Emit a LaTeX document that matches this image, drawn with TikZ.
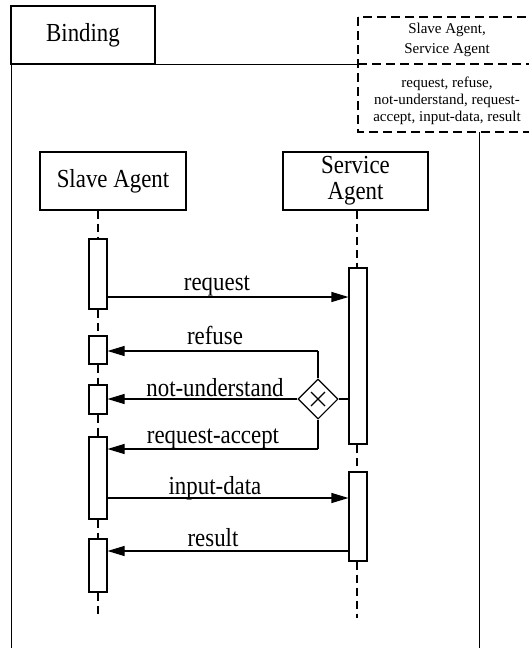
\documentclass[tikz,border=0pt]{standalone}
\usepackage{fontspec}
\setmainfont{Liberation Serif}[FakeStretch=0.88]
\newfontfamily\notefont{Liberation Serif}
\usetikzlibrary{arrows.meta,shapes.geometric}

\tikzset{
  solidline/.style={line width=1.1pt},
  frameline/.style={line width=1pt},
  headbox/.style={draw, line width=1.1pt, inner sep=0pt, align=center,
    font=\fontsize{26}{26}\selectfont},
  actbox/.style={draw, fill=white, line width=1.1pt, minimum width=18pt, inner sep=0pt},
  lifeline/.style={line width=2pt, dash pattern=on 8pt off 5pt},
  dashbox/.style={line width=2pt, dash pattern=on 9pt off 5pt},
  msg/.style={line width=1.1pt, -{Triangle[length=17pt,width=10pt]}},
  msglabel/.style={anchor=base, inner sep=0pt, font=\fontsize{26}{26}\selectfont},
  notelabel/.style={anchor=base, inner sep=0pt, font=\notefont\fontsize{15}{17}\selectfont},
  choice/.style={draw, diamond, line width=1.1pt, fill=white, minimum width=40pt,
    minimum height=40pt, inner sep=0pt, aspect=1}
}

\begin{document}
\begin{tikzpicture}[x=1pt,y=-1pt]
\useasboundingbox (0,0) rectangle (529,648);

% frame of the binding
\node[headbox, minimum width=144pt, minimum height=58pt] (binding) at (83,35) {Binding};
\coordinate (frameTL) at (11,6);
\coordinate (frameBL) at (11,648);
\coordinate (frameR) at (479,132);
\coordinate (frameBR) at (479,648);
\draw[frameline] (frameTL) -- (frameBL);
\draw[frameline] (frameR) -- (frameBR);
\coordinate (barL) at (155,64);
\coordinate (barR) at (358,64);
\draw[frameline] (barL) -- (barR);

% dashed template box
\coordinate (dbTL) at (358,17);
\coordinate (dbBR) at (537,132);
\coordinate (dbMidL) at (358,64);
\coordinate (dbMidR) at (537,64);
\draw[dashbox] (dbTL) rectangle (dbBR);
\draw[dashbox] (dbMidL) -- (dbMidR);
\node[notelabel] (p1) at (447,33) {Slave Agent,};
\node[notelabel] (p2) at (447,53) {Service Agent};
\node[notelabel] (m1) at (447,87) {request, refuse,};
\node[notelabel] (m2) at (447,104) {not-understand, request-};
\node[notelabel] (m3) at (447,121) {accept, input-data, result};

% participants
\node[headbox, minimum width=146pt, minimum height=58pt] (slave) at (113,181) {Slave Agent};
\node[headbox, minimum width=145pt, minimum height=58pt] (service) at (355.5,181) {Service\\Agent};

% activations of the slave agent
\node[actbox, minimum height=70pt] (sa1) at (98,274) {};
\node[actbox, minimum height=28pt] (sa2) at (98,350) {};
\node[actbox, minimum height=29pt] (sa3) at (98,399.5) {};
\node[actbox, minimum height=82pt] (sa4) at (98,478) {};
\node[actbox, minimum height=53pt] (sa5) at (98,565.5) {};

% activations of the service agent
\node[actbox, minimum height=176pt] (va1) at (358,356) {};
\node[actbox, minimum height=89pt] (va2) at (358,516.5) {};

% lifelines
\coordinate (slaveEnd) at (98,618);
\coordinate (serviceEnd) at (357,618);
\draw[lifeline] (slave.south -| sa1.north) -- (sa1.north);
\draw[lifeline] (sa1.south) -- (sa2.north);
\draw[lifeline] (sa2.south) -- (sa3.north);
\draw[lifeline] (sa3.south) -- (sa4.north);
\draw[lifeline] (sa4.south) -- (sa5.north);
\draw[lifeline] (sa5.south) -- (slaveEnd);
\draw[lifeline] (slave.south -| serviceEnd) -- (va1.north -| serviceEnd);
\draw[lifeline] (va1.south -| serviceEnd) -- (va2.north -| serviceEnd);
\draw[lifeline] (va2.south -| serviceEnd) -- (serviceEnd);

% request
\coordinate (yReq) at (0,297);
\draw[msg] (sa1.east |- yReq) -- (va1.west |- yReq);
\node[msglabel] (lReq) at (217,290) {request};

% choice between refuse, not-understand and request-accept
\node[choice] (dia) at (318,399) {};
\draw[solidline] ([shift={(-7,-7)}]dia.center) -- ([shift={(7,7)}]dia.center);
\draw[solidline] ([shift={(-7,7)}]dia.center) -- ([shift={(7,-7)}]dia.center);
\draw[solidline] (dia.east) -- (dia.east -| va1.west);
\coordinate (refTop) at (318,351);
\coordinate (accBot) at (318,449);
\draw[solidline] (dia.north) -- (refTop);
\draw[solidline] (dia.south) -- (accBot);

\draw[msg] (refTop) -- (refTop -| sa2.east);
\node[msglabel] (lRef) at (215,344) {refuse};

\draw[msg] (dia.west) -- (dia.west -| sa3.east);
\node[msglabel] (lNot) at (215,396) {not-understand};

\draw[msg] (accBot) -- (accBot -| sa4.east);
\node[msglabel] (lAcc) at (213,443) {request-accept};

% input-data
\coordinate (yIn) at (0,498);
\draw[msg] (sa4.east |- yIn) -- (va2.west |- yIn);
\node[msglabel] (lIn) at (215,494) {input-data};

% result
\coordinate (yRes) at (0,551);
\draw[msg] (va2.west |- yRes) -- (sa5.east |- yRes);
\node[msglabel] (lRes) at (213,546) {result};

\end{tikzpicture}
\end{document}
